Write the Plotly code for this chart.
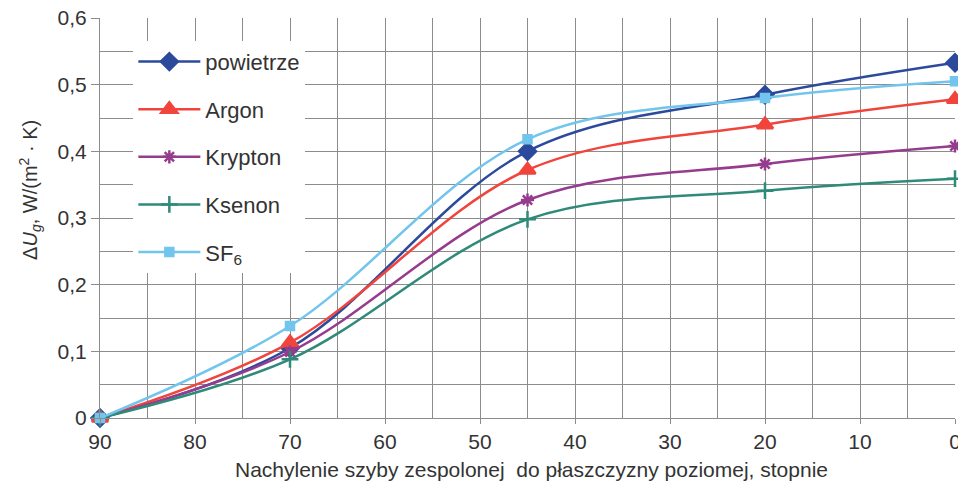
import plotly.graph_objects as go

angles = [90, 70, 45, 20, 0]
powietrze = [0.0, 0.105, 0.400, 0.485, 0.533]
argon = [0.0, 0.113, 0.372, 0.440, 0.478]
krypton = [0.0, 0.099, 0.327, 0.381, 0.408]
ksenon = [0.0, 0.088, 0.298, 0.341, 0.359]
sf6 = [0.0, 0.138, 0.418, 0.480, 0.505]

series = [
    ("powietrze", powietrze, "#2c4a9c", "diamond", 13),
    ("Argon", argon, "#f0443c", "triangle-up", 14),
    ("Krypton", krypton, "#963c8e", "asterisk-open", 11),
    ("Ksenon", ksenon, "#2f8a7a", "cross-thin-open", 12),
    ("SF<sub>6</sub>", sf6, "#72c5ec", "square", 8),
]

fig = go.Figure()
for name, vals, color, sym, size in series:
    fig.add_trace(go.Scatter(
        x=angles, y=vals, name=name, mode="lines+markers",
        line=dict(color=color, width=2.5, shape="spline", smoothing=1.0),
        marker=dict(symbol=sym, size=size, color=color,
                    line=dict(color=color, width=2.5)),
        legendgroup=name, cliponaxis=False,
    ))

font = "Liberation Sans, Arial, sans-serif"
fig.update_layout(
    width=958, height=480,
    margin=dict(l=92, r=11, t=10, b=70, autoexpand=False),
    paper_bgcolor="white", plot_bgcolor="white",
    separators=", ",
    font=dict(family=font, size=21, color="#333333"),
    showlegend=True,
    legend=dict(x=0.039, y=0.943, xanchor="left", yanchor="top",
                bgcolor="white", font=dict(size=22, color="#333333"),
                tracegroupgap=16, itemwidth=62),
    xaxis=dict(range=[90, 0], tickmode="linear", tick0=0, dtick=10,
               automargin=False, ticklabeloverflow="allow",
               showgrid=True, gridcolor="#8c8c8c", gridwidth=1,
               minor=dict(dtick=5, showgrid=True, gridcolor="#8c8c8c", gridwidth=1),
               ticks="outside", ticklen=5, tickcolor="#8c8c8c",
               showline=True, linecolor="#8c8c8c", zeroline=False,
               tickfont=dict(size=21)),
    yaxis=dict(range=[0, 0.6], tickmode="linear", tick0=0, dtick=0.1,
               tickformat=".1~f", automargin=False, ticklabeloverflow="allow",
               showgrid=True, gridcolor="#8c8c8c", gridwidth=1,
               minor=dict(dtick=0.05, showgrid=True, gridcolor="#8c8c8c", gridwidth=1),
               ticks="outside", ticklen=8, tickcolor="#8c8c8c",
               showline=True, linecolor="#8c8c8c", zeroline=False,
               tickfont=dict(size=21)),
    annotations=[
        dict(text="Δ<i>U</i><sub><i>g</i></sub>, W/(m<sup>2</sup> · K)",
             xref="paper", yref="paper", x=-0.082, y=0.57,
             xanchor="center", yanchor="middle", textangle=-90, showarrow=False,
             font=dict(size=20, color="#333333")),
        dict(text="Nachylenie szyby zespolonej  do płaszczyzny poziomej, stopnie",
             xref="paper", yref="paper", x=0.505, y=-0.13,
             xanchor="center", yanchor="middle", showarrow=False,
             font=dict(size=21, color="#333333")),
    ],
)
fig.write_html("out.html")
